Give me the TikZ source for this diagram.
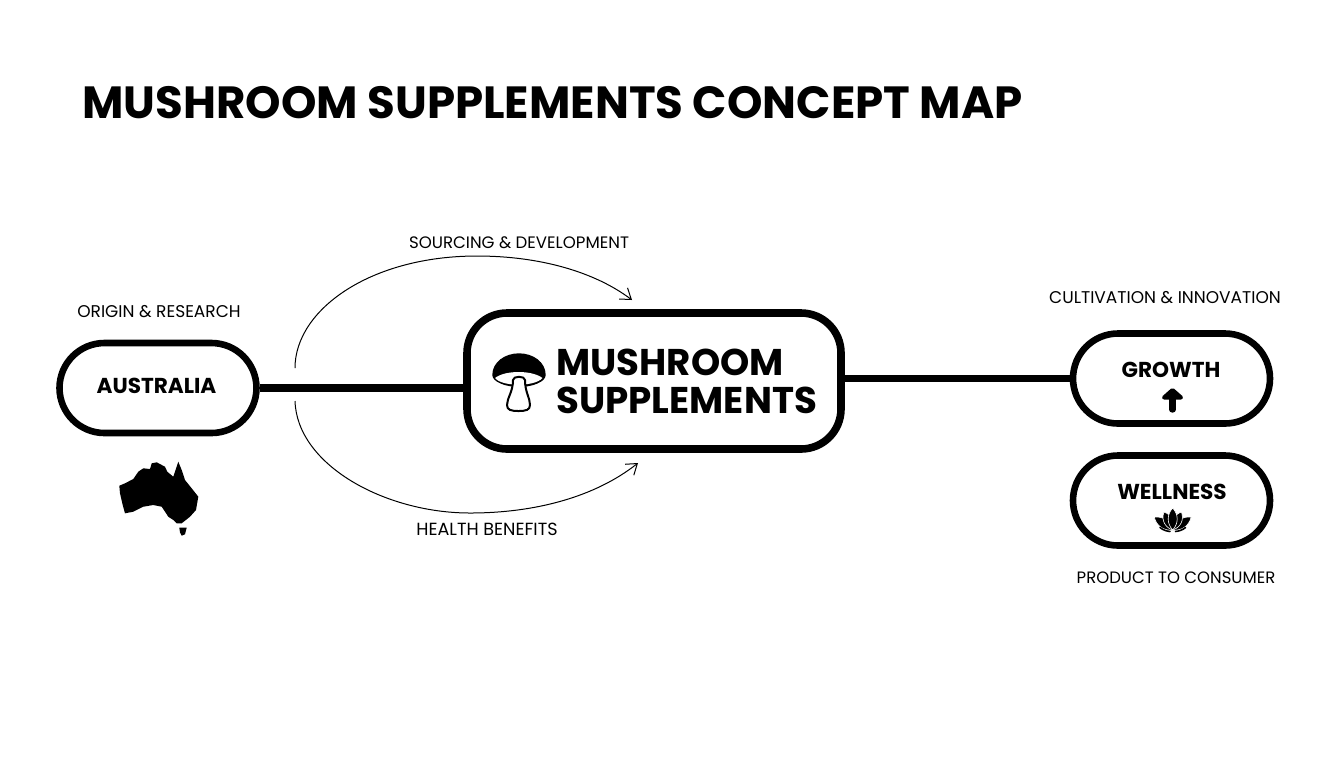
\documentclass[tikz,border=0pt]{standalone}
\usepackage{fontspec}
\setmainfont{Poppins}
\usetikzlibrary{arrows.meta}
\tikzset{
	pill/.style={draw=black,fill=white,line width=3.3pt,rectangle,rounded corners=22.5pt,minimum width=98.5pt,minimum height=45pt,inner sep=0pt},
	mainbox/.style={draw=black,fill=white,line width=3.8pt,rectangle,rounded corners=20pt,minimum width=187pt,minimum height=68pt,inner sep=0pt},
	link/.style={line width=3.8pt},
	curve/.style={line width=0.5pt,-{Straight Barb[length=5pt,width=7pt,line width=0.5pt]}},
	caption/.style={inner sep=0pt,font=\fontsize{#1}{10}\selectfont},
	caption/.default=8.5,
	boxlabel/.style={inner sep=0pt,font=\fontsize{10.8}{13}\selectfont\bfseries},
	petal/.style={fill=black,draw=white,line width=0.3pt},
}
\begin{document}
\begin{tikzpicture}[x=0.5pt,y=-0.5pt]
	\useasboundingbox (0,0) rectangle (1344,768);
	\node[inner sep=0pt,anchor=base west,font=\fontsize{22.55}{28}\selectfont\bfseries] (title) at (82,118.5) {MUSHROOM SUPPLEMENTS CONCEPT MAP};
	\node[pill] (australia) at (158,388) {};
	\node[mainbox] (mushroom) at (654,381) {};
	\node[pill] (growth) at (1171.5,378.5) {};
	\node[pill] (wellness) at (1171.5,500.5) {};
	\node[boxlabel] (australialabel) at (156.5,385.5) {AUSTRALIA};
	\node[boxlabel] (growthlabel) at (1171,370) {GROWTH};
	\node[boxlabel] (wellnesslabel) at (1172,492) {WELLNESS};
	\node[inner sep=0pt,anchor=west,align=left,font=\fontsize{18.6}{19}\selectfont\bfseries] (mushroomlabel) at (556,381.5) {MUSHROOM\\SUPPLEMENTS};
	\node[caption] (origin) at (159,312) {ORIGIN \& RESEARCH};
	\node[caption=8.3] (sourcing) at (519,243) {SOURCING \& DEVELOPMENT};
	\node[caption=8.8] (health) at (487,529) {HEALTH BENEFITS};
	\node[caption] (cultivation) at (1165,298) {CULTIVATION \& INNOVATION};
	\node[caption=8.25] (product) at (1176,578) {PRODUCT TO CONSUMER};
	% connectors
	\draw[link] (australia.east) -- (australia.east -| mushroom.west);
	\draw[link] (mushroom.east |- growth.west) -- (growth.west);
	\coordinate (A) at (295,368);
	\coordinate (A1) at (632,300);
	\coordinate (B) at (295,401);
	\coordinate (B1) at (638,463);
	\draw[curve] (A) .. controls (295,310) and (370,256) .. (477,256) .. controls (540,256) and (595,272) .. (A1);
	\draw[curve] (B) .. controls (297,465) and (385,513) .. (470,513) .. controls (535,513) and (595,497) .. (B1);
	% australia
	\fill[black] (119.3,485.7) -- (125,483.3) -- (133.3,479) -- (138.3,471.7) -- (143.3,468.3) -- (150,469) -- (151.7,463.3) -- (156.7,462.3) -- (165,466.7) -- (167.3,471.7) -- (173.3,476.7) -- (178.3,461.7) -- (181.7,470) -- (185,480) -- (191.7,488.3) -- (198.3,496.7) -- (196,510) -- (190,516.7) -- (181.7,523.3) -- (176.7,523.3) -- (173.3,520) -- (168.3,516.7) -- (165,511.7) -- (161.7,506.7) -- (153.3,505) -- (143.3,506.7) -- (133.3,511.7) -- (125,513.3) -- (122.7,505) -- (120,493.3) -- cycle;
	\fill[black] (179.3,527.7) -- (186.7,527.7) -- (185,534.3) -- (181.7,535.7) -- (180,532.3) -- cycle;
	% mushroom
	\fill[black] (492.3,375) .. controls (492.3,362) and (505,353.3) .. (519,353.3) .. controls (533,353.3) and (545.7,362) .. (545.7,375) .. controls (545.7,382) and (532,387) .. (519,387) .. controls (506,387) and (492.3,382) .. (492.3,375) -- cycle;
	\fill[white] (495,378) .. controls (505,370) and (532,370) .. (542.5,378) .. controls (538,383) and (527,384.7) .. (518.5,384.7) .. controls (510,384.7) and (499,383) .. (495,378) -- cycle;
	\draw[fill=white,line width=1pt,line join=round] (513,380) .. controls (513,375.7) and (525,375.7) .. (525,380) .. controls (525,392) and (530,398) .. (530,405) .. controls (530,410) and (526,411) .. (518.5,411) .. controls (511,411) and (507,410) .. (507,405) .. controls (507,398) and (513,392) .. (513,380) -- cycle;
	% arrow
	\draw[line width=3.2pt,line cap=round] (1172.5,409.5) -- (1172.5,395);
	\draw[line width=2pt,line join=round,fill=black] (1164,397.5) -- (1172.5,390) -- (1181,397.5) -- cycle;
	% lotus
	\coordinate (L) at (1172.7,530);
	\foreach \a/\r in {55/22.5,-55/22.5,26/20,-26/20,0/22}{
		\draw[petal,rotate around={\a:(L)}] (L) .. controls (1166.7,530-0.3*\r) and (1166.7,530-0.7*\r) .. (1172.7,530-\r) .. controls (1178.7,530-0.7*\r) and (1178.7,530-0.3*\r) .. (L) -- cycle;
	}
	\draw[line width=0.8pt,line cap=round] (1160,527.5) .. controls (1163,530) and (1166,531) .. (1170,531.5);
	\draw[line width=0.8pt,line cap=round] (1185.5,527.5) .. controls (1182.5,530) and (1179.5,531) .. (1175.5,531.5);
\end{tikzpicture}
\end{document}
